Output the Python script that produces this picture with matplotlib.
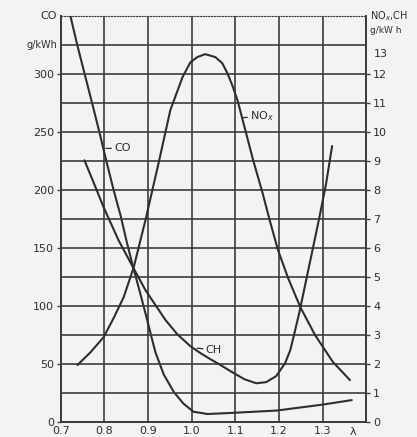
import matplotlib
matplotlib.use("Agg")
import matplotlib.pyplot as plt

plt.rcParams['font.family'] = ['Liberation Sans Narrow', 'DejaVu Sans']

# --- data ---
lam_co = [0.722, 0.737, 0.756, 0.773, 0.789, 0.805, 0.821, 0.837, 0.850, 0.864, 0.882, 0.898,
          0.908, 0.917, 0.936, 0.959, 0.981, 1.004, 1.036, 1.094, 1.195, 1.298, 1.367]
co = [350, 326, 298, 273, 249, 224, 200, 178, 157, 136, 111, 88,
      73, 60, 41, 26, 16, 9, 7, 8, 10, 15, 19]

lam_nox = [0.738, 0.768, 0.798, 0.821, 0.844, 0.867, 0.894, 0.924, 0.951, 0.979, 0.997, 1.013,
           1.031, 1.054, 1.070, 1.082, 1.093, 1.105, 1.111, 1.141, 1.162, 1.180, 1.198, 1.221,
           1.249, 1.283, 1.324, 1.363]
nox = [1.97, 2.41, 2.93, 3.59, 4.31, 5.34, 6.97, 8.93, 10.76, 11.90, 12.41, 12.59,
       12.69, 12.59, 12.38, 12.03, 11.62, 11.10, 10.76, 9.03, 7.93, 6.90, 5.93, 4.97,
       3.97, 3.00, 2.07, 1.45]

lam_ch = [0.754, 0.773, 0.798, 0.832, 0.864, 0.894, 0.940, 0.967, 0.997, 1.020, 1.043, 1.066,
          1.093, 1.121, 1.148, 1.171, 1.194, 1.214, 1.226, 1.235, 1.247, 1.260, 1.276, 1.292,
          1.308, 1.322]
ch = [9.03, 8.34, 7.41, 6.28, 5.38, 4.55, 3.52, 3.03, 2.62, 2.38, 2.17, 1.97,
      1.72, 1.48, 1.34, 1.38, 1.59, 2.03, 2.48, 3.03, 3.79, 4.72, 5.86, 7.00,
      8.21, 9.52]

x_ticks = [0.7, 0.8, 0.9, 1.0, 1.1, 1.2, 1.3]
x_labels = ['0.7', '0.8', '0.9', '1.0', '1.1', '1.2', '1.3']
left_ticks = [0, 50, 100, 150, 200, 250, 300]
right_ticks = list(range(0, 13))

bg = '#f3f3f1'
ink = '#2e2e2e'
grid_c = '#3c3c3c'

fig = plt.figure(figsize=(4.17, 4.37), dpi=100, facecolor=bg)
ax = fig.add_axes([0.146, 0.034, 0.732, 0.929])
ax.set_facecolor(bg)
ax2 = ax.twinx()

ax.set_xlim(0.7, 1.4)
ax.set_ylim(0, 350)
ax2.set_ylim(0, 14)

# grid
for xv in [0.8, 0.9, 1.0, 1.1, 1.2, 1.3]:
    ax.axvline(xv, color=grid_c, lw=1.2, zorder=1)
for yv in range(1, 14):
    ax2.axhline(yv, color=grid_c, lw=1.2, zorder=1)

# curves
line_kw = dict(color=ink, lw=1.5, zorder=3, solid_joinstyle='round', solid_capstyle='round')
ax.plot(lam_co, co, **line_kw)
ax2.plot(lam_nox, nox, **line_kw)
ax2.plot(lam_ch, ch, **line_kw)

# spines
for s in ['left', 'right', 'bottom']:
    for a in (ax, ax2):
        a.spines[s].set_color(grid_c)
        a.spines[s].set_linewidth(1.3)
ax.spines['top'].set_linestyle((0, (1, 1.5)))
ax.spines['top'].set_color(grid_c)
ax2.spines['top'].set_visible(False)

fs = 8
ax.set_xticks(x_ticks)
ax.set_xticklabels(x_labels, fontsize=fs, color=ink)
ax.tick_params(axis='x', length=0, pad=3)
ax.set_yticks(left_ticks)
ax.set_yticklabels([str(v) for v in left_ticks], fontsize=fs, color=ink)
ax.tick_params(axis='y', length=3, width=1, color=grid_c, pad=2, direction='out')
ax2.set_yticks(right_ticks)
ax2.set_yticklabels([str(v) for v in right_ticks], fontsize=fs, color=ink)
ax2.tick_params(axis='y', length=3, width=1, color=grid_c, pad=2, direction='out')

# axis titles
ax.text(-0.012, 350, 'CO', transform=ax.get_yaxis_transform(), ha='right', va='center', fontsize=fs, color=ink)
ax.text(-0.012, 325, 'g/kWh', transform=ax.get_yaxis_transform(), ha='right', va='center', fontsize=7, color=ink)
ax2.text(1.012, 14, 'NO$_x$,CH', transform=ax2.get_yaxis_transform(), ha='left', va='center', fontsize=7, color=ink)
ax2.text(1.012, 13.5, 'g/kW h', transform=ax2.get_yaxis_transform(), ha='left', va='center', fontsize=6.5, color=ink)
ax2.text(1.025, 12.7, '13', transform=ax2.get_yaxis_transform(), ha='left', va='center', fontsize=fs, color=ink)
ax.text(1.37, -4, 'λ', ha='center', va='top', fontsize=fs, color=ink)

# curve labels
ax.annotate('CO', xy=(0.803, 236), xytext=(0.822, 236), fontsize=fs, color=ink, va='center', ha='left',
            arrowprops=dict(arrowstyle='-', color=ink, lw=0.9, shrinkA=0, shrinkB=0))
ax2.annotate('CH', xy=(1.012, 2.55), xytext=(1.032, 2.5), fontsize=fs, color=ink, va='center', ha='left',
             arrowprops=dict(arrowstyle='-', color=ink, lw=0.9, shrinkA=0, shrinkB=0))
ax2.annotate('NO$_x$', xy=(1.118, 10.5), xytext=(1.134, 10.55), fontsize=fs, color=ink, va='center', ha='left',
             arrowprops=dict(arrowstyle='-', color=ink, lw=0.9, shrinkA=0, shrinkB=0))

fig.savefig('out.png', dpi=100, facecolor=bg)
